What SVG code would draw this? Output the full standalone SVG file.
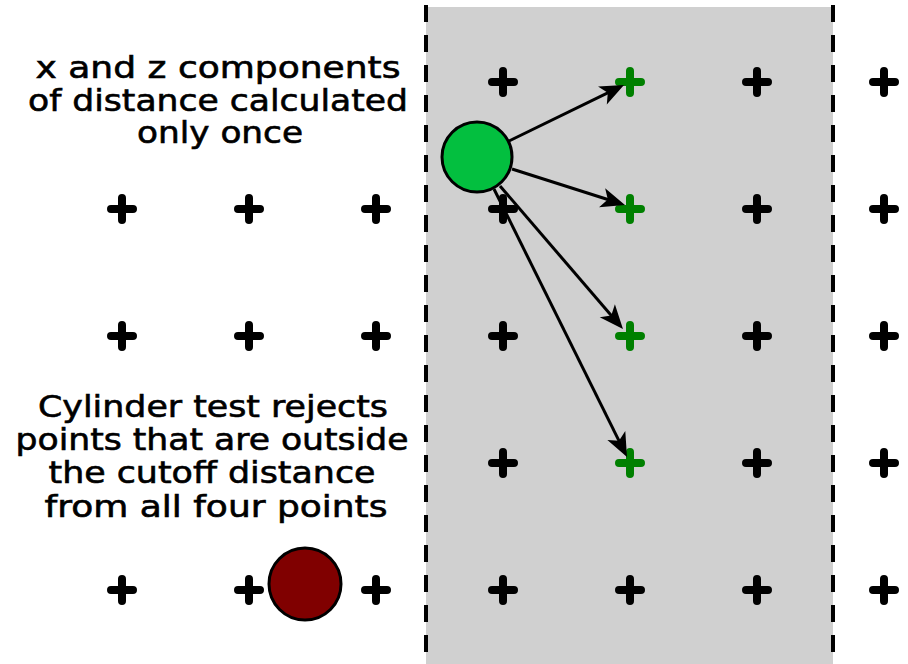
<svg xmlns="http://www.w3.org/2000/svg" xmlns:xlink="http://www.w3.org/1999/xlink" width="908" height="664" viewBox="0 0 908 664">
  <style>
    .band { fill: #d0d0d0; }
    .divider { stroke: #000; stroke-width: 4; stroke-dasharray: 17 13; fill: none; }
    .pt { stroke: #000; stroke-width: 8; stroke-linecap: round; fill: none; }
    .pt.hit { stroke: #008000; }
    .link { stroke: #000; stroke-width: 3; fill: none; marker-end: url(#head); }
    .probe { stroke: #000; stroke-width: 3; }
    .label { font-family: "DejaVu Sans", "Liberation Sans", sans-serif; font-size: 30px; fill: #000; stroke: #000; stroke-width: 0.6; text-anchor: middle; }
  </style>
  <defs>
    <path id="plus" d="M-11,0 H11 M0,-11 V11"/>
    <marker id="head" markerUnits="userSpaceOnUse" markerWidth="26" markerHeight="22" refX="15" refY="10" orient="auto" overflow="visible">
      <path d="M0,0 L24,10 L0,20 L6,10 Z" fill="#000"/>
    </marker>
  </defs>

  <!-- shaded column of cells -->
  <rect class="band" x="426" y="7" width="407" height="657"/>
  <line class="divider" x1="426" y1="5" x2="426" y2="664"/>
  <line class="divider" x1="833" y1="5" x2="833" y2="664"/>

  <!-- grid points -->
  <g id="points">
    <use class="pt" xlink:href="#plus" x="503" y="82"/>
    <use class="pt hit" xlink:href="#plus" x="630" y="82"/>
    <use class="pt" xlink:href="#plus" x="757" y="82"/>
    <use class="pt" xlink:href="#plus" x="884" y="82"/>

    <use class="pt" xlink:href="#plus" x="122" y="209"/>
    <use class="pt" xlink:href="#plus" x="249" y="209"/>
    <use class="pt" xlink:href="#plus" x="376" y="209"/>
    <use class="pt" xlink:href="#plus" x="503" y="209"/>
    <use class="pt hit" xlink:href="#plus" x="630" y="209"/>
    <use class="pt" xlink:href="#plus" x="757" y="209"/>
    <use class="pt" xlink:href="#plus" x="884" y="209"/>

    <use class="pt" xlink:href="#plus" x="122" y="336"/>
    <use class="pt" xlink:href="#plus" x="249" y="336"/>
    <use class="pt" xlink:href="#plus" x="376" y="336"/>
    <use class="pt" xlink:href="#plus" x="503" y="336"/>
    <use class="pt hit" xlink:href="#plus" x="630" y="336"/>
    <use class="pt" xlink:href="#plus" x="757" y="336"/>
    <use class="pt" xlink:href="#plus" x="884" y="336"/>

    <use class="pt" xlink:href="#plus" x="503" y="463"/>
    <use class="pt hit" xlink:href="#plus" x="630" y="463"/>
    <use class="pt" xlink:href="#plus" x="757" y="463"/>
    <use class="pt" xlink:href="#plus" x="884" y="463"/>

    <use class="pt" xlink:href="#plus" x="122" y="590"/>
    <use class="pt" xlink:href="#plus" x="249" y="590"/>
    <use class="pt" xlink:href="#plus" x="376" y="590"/>
    <use class="pt" xlink:href="#plus" x="503" y="590"/>
    <use class="pt" xlink:href="#plus" x="630" y="590"/>
    <use class="pt" xlink:href="#plus" x="757" y="590"/>
    <use class="pt" xlink:href="#plus" x="884" y="590"/>
  </g>

  <!-- distance vectors from the probe to the four points -->
  <g id="connectors">
    <line class="link" x1="509" y1="141" x2="615.9" y2="88.9"/>
    <line class="link" x1="512" y1="169" x2="616.4" y2="202.3"/>
    <line class="link" x1="500" y1="186" x2="617.1" y2="322.2"/>
    <line class="link" x1="494" y1="189" x2="623.0" y2="448.9"/>
  </g>

  <g id="probe-active">
    <circle class="probe" cx="477" cy="157" r="35" fill="#03bf3f"/>
  </g>

  <g id="probe-rejected">
    <circle class="probe" cx="305" cy="584" r="36" fill="#800000"/>
  </g>

  <g id="note-components">
    <text class="label" x="218" y="78" textLength="365" lengthAdjust="spacingAndGlyphs">x and z components</text>
    <text class="label" x="218" y="111" textLength="380" lengthAdjust="spacingAndGlyphs">of distance calculated</text>
    <text class="label" x="220" y="143" textLength="166" lengthAdjust="spacingAndGlyphs">only once</text>
  </g>

  <g id="note-cylinder">
    <text class="label" x="213" y="417" textLength="350" lengthAdjust="spacingAndGlyphs">Cylinder test rejects</text>
    <text class="label" x="212" y="450" textLength="393" lengthAdjust="spacingAndGlyphs">points that are outside</text>
    <text class="label" x="212" y="483" textLength="327" lengthAdjust="spacingAndGlyphs">the cutoff distance</text>
    <text class="label" x="216" y="517" textLength="343" lengthAdjust="spacingAndGlyphs">from all four points</text>
  </g>
</svg>
